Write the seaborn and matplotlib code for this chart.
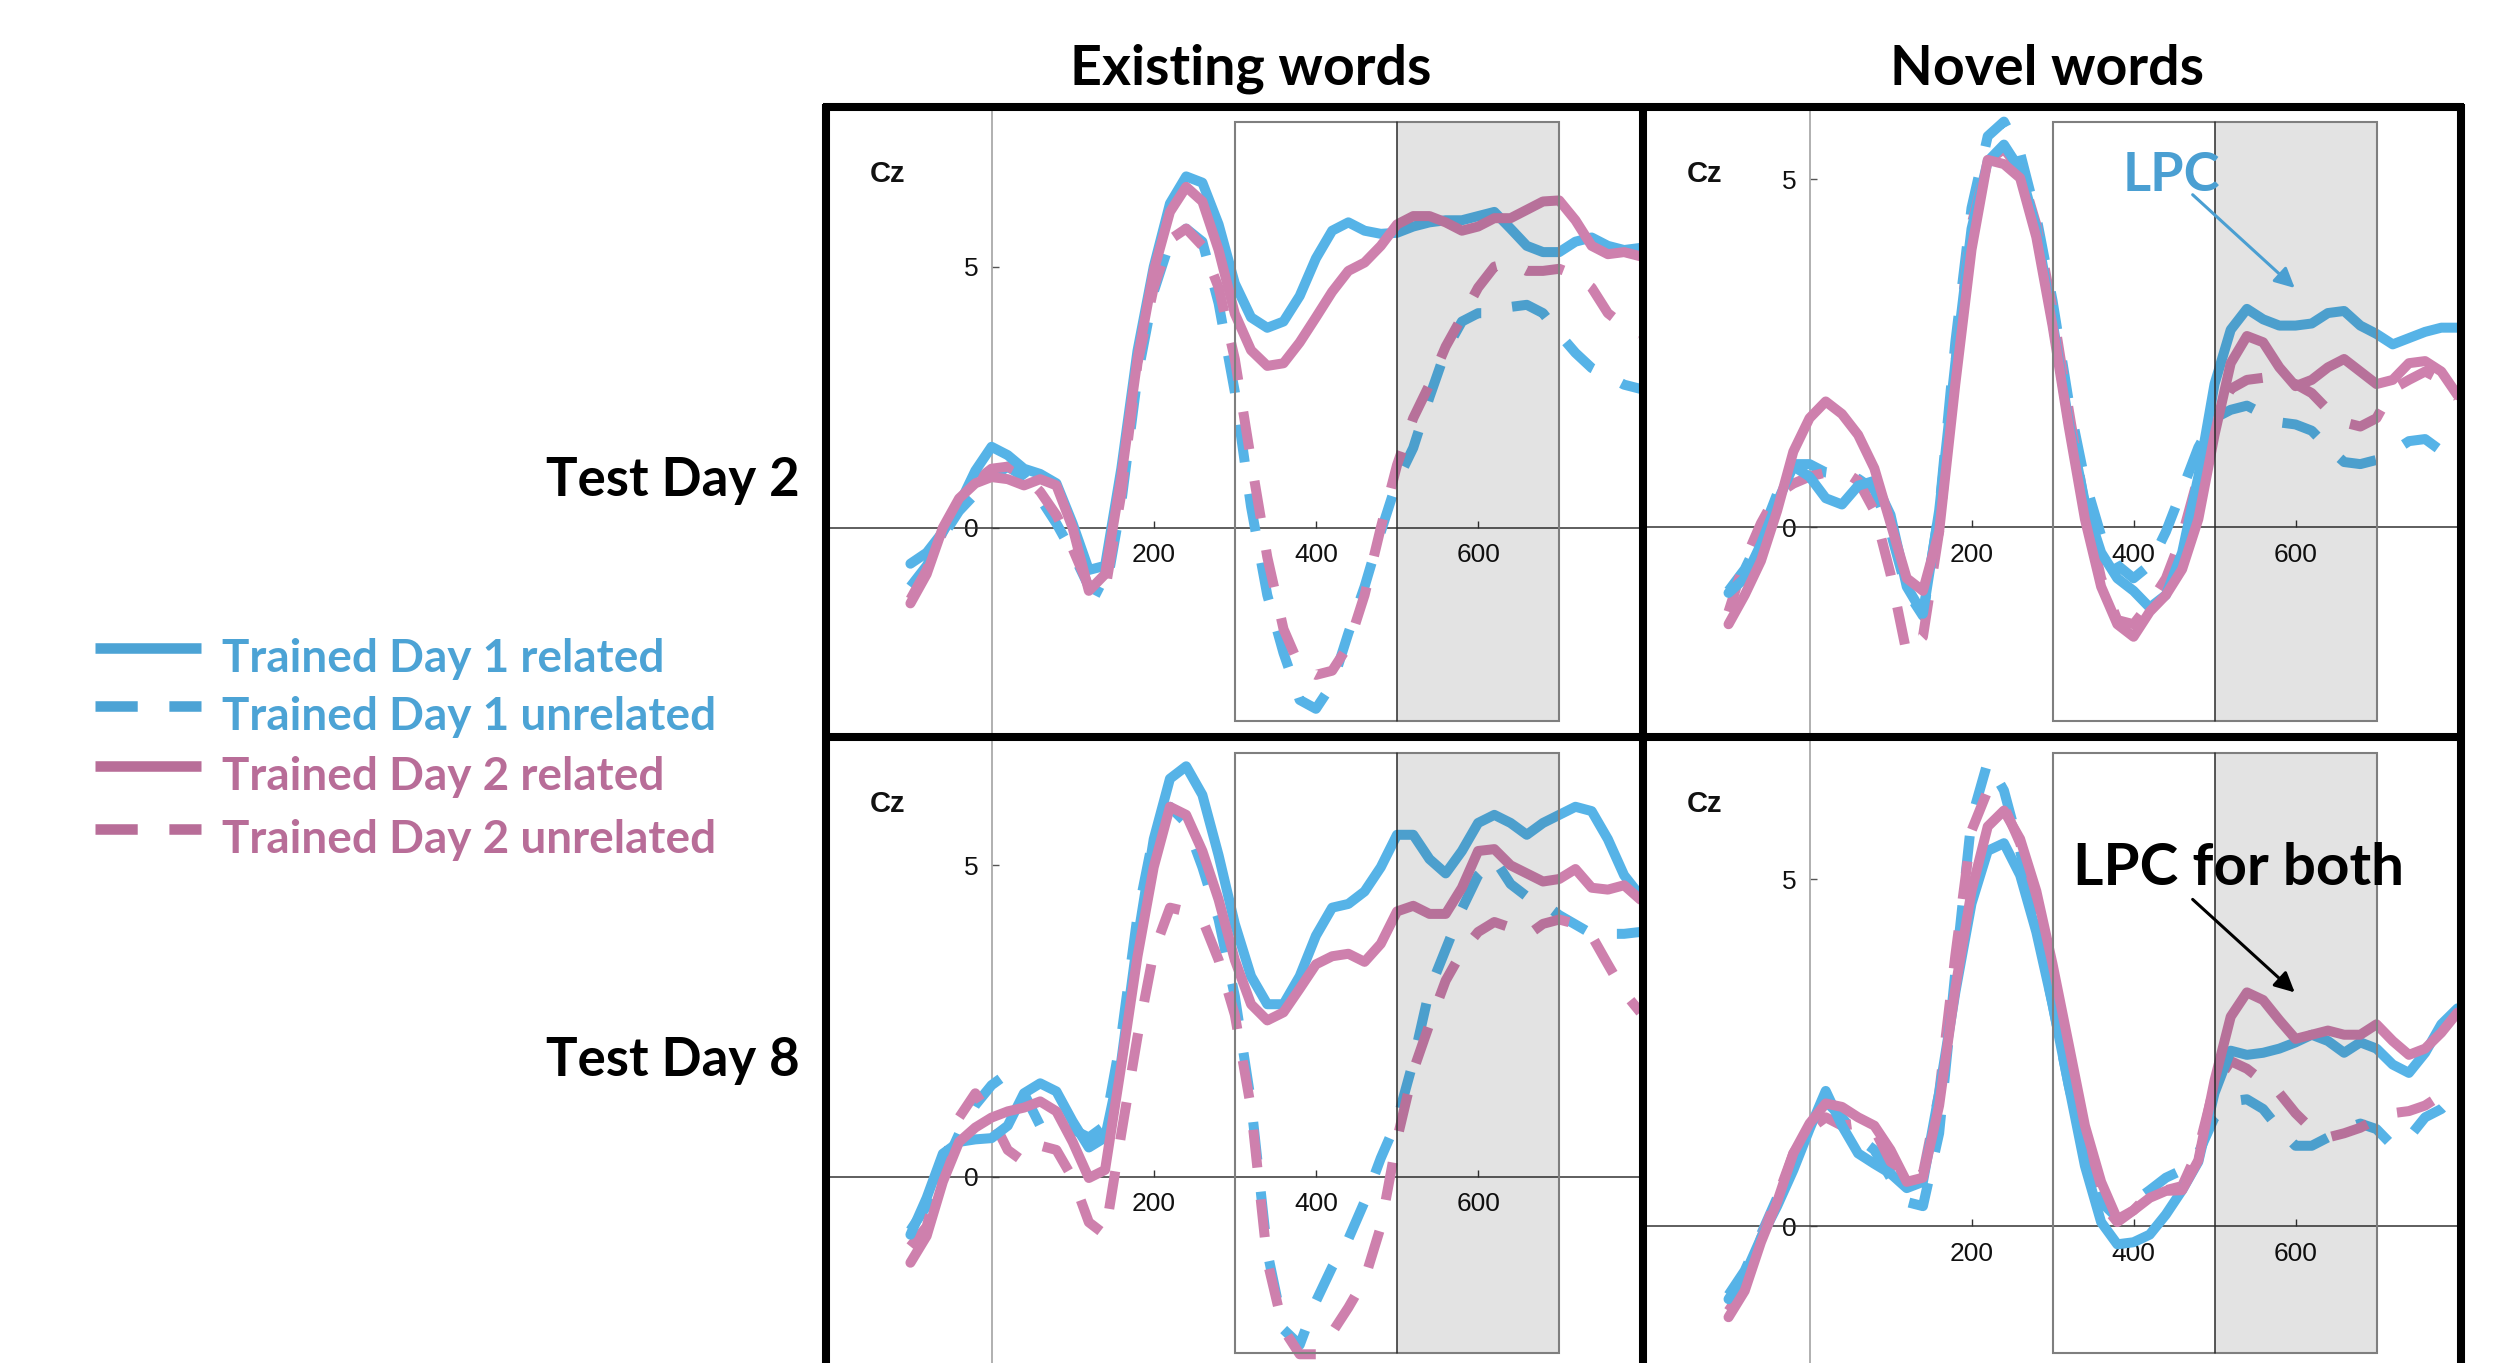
import matplotlib
matplotlib.use("Agg")
import matplotlib.pyplot as plt
import matplotlib.transforms as mtransforms
from matplotlib.patches import Rectangle
import numpy as np
import pandas as pd
import seaborn as sns

# ---------------------------------------------------------------------------
# ERP amplitudes at Cz (microvolts), sampled every 20 ms from -100 to 800 ms
# ---------------------------------------------------------------------------
times = list(range(-100, 801, 20))

conditions = [
    "Trained Day 1 related",
    "Trained Day 1 unrelated",
    "Trained Day 2 related",
    "Trained Day 2 unrelated",
]

# Existing words, test day 2
ew_d2_t1_rel = [-0.69, -0.48, -0.08, 0.44, 1.09, 1.55, 1.39, 1.13, 1.03, 0.85, 0.08, -0.81, -0.73, 1.13, 3.39, 5.00,
                6.21, 6.73, 6.61, 5.81, 4.68, 4.03, 3.83, 3.95, 4.44, 5.16, 5.69, 5.85, 5.69, 5.63, 5.65, 5.77, 5.85,
                5.89, 5.89, 5.97, 6.05, 5.73, 5.40, 5.28, 5.28, 5.48, 5.56, 5.40, 5.32, 5.36]
ew_d2_t1_unrel = [-1.13, -0.73, -0.16, 0.32, 0.65, 0.97, 1.17, 0.97, 0.56, 0.08, -0.48, -1.13, -1.29, 0.48, 2.90, 4.52,
                  5.48, 5.73, 5.48, 4.30, 2.60, 0.40, -1.29, -2.40, -3.30, -3.47, -3.00, -2.02, -1.13, -0.08, 0.89,
                  1.53, 2.50, 3.39, 3.95, 4.11, 4.11, 4.23, 4.27, 4.11, 3.71, 3.35, 3.06, 2.90, 2.74, 2.66]
ew_d2_t2_rel = [-1.45, -0.89, 0.00, 0.56, 0.85, 0.97, 0.93, 0.81, 0.93, 0.81, 0.00, -1.21, -0.89, 0.97, 3.23, 4.92,
                6.05, 6.53, 6.25, 5.32, 4.10, 3.40, 3.10, 3.15, 3.55, 4.03, 4.52, 4.92, 5.08, 5.40, 5.81, 5.97, 5.97,
                5.85, 5.69, 5.77, 5.93, 5.93, 6.09, 6.25, 6.27, 5.89, 5.40, 5.24, 5.28, 5.20]
ew_d2_t2_unrel = [-1.37, -0.81, -0.08, 0.48, 0.89, 1.13, 1.17, 1.01, 0.69, 0.24, -0.40, -1.13, -1.21, 0.65, 3.15, 4.60,
                  5.52, 5.73, 5.40, 4.60, 3.23, 1.29, -0.56, -1.94, -2.66, -2.82, -2.74, -2.26, -1.29, 0.00, 1.20,
                  2.10, 2.74, 3.47, 4.03, 4.60, 5.00, 5.08, 4.92, 4.92, 4.96, 4.84, 4.60, 4.11, 3.87, 3.71]

# Novel words, test day 2
nw_d2_t1_rel = [-0.94, -0.73, -0.24, 0.36, 0.88, 0.73, 0.42, 0.33, 0.60, 0.67, 0.18, -0.85, -1.24, 0.24, 2.36, 4.29,
                5.26, 5.50, 5.14, 4.29, 2.96, 1.51, 0.36, -0.36, -0.73, -0.91, -1.15, -0.97, -0.36, 0.73, 2.06, 2.84,
                3.14, 2.99, 2.90, 2.90, 2.93, 3.08, 3.11, 2.90, 2.78, 2.63, 2.72, 2.81, 2.87, 2.87]
nw_d2_t1_unrel = [-0.91, -0.60, -0.12, 0.48, 0.91, 0.91, 0.79, 0.76, 0.70, 0.54, -0.06, -0.91, -1.27, 0.24, 2.66, 4.59,
                  5.62, 5.83, 5.38, 4.47, 3.26, 1.81, 0.67, -0.12, -0.54, -0.73, -0.54, -0.06, 0.54, 1.15, 1.57,
                  1.69, 1.75, 1.63, 1.51, 1.48, 1.39, 1.15, 0.94, 0.91, 0.97, 1.09, 1.24, 1.27, 1.10, 0.90]
nw_d2_t2_rel = [-1.39, -0.97, -0.48, 0.24, 1.09, 1.57, 1.81, 1.63, 1.33, 0.85, 0.06, -0.73, -0.91, -0.06, 2.06, 3.99,
                5.28, 5.22, 5.02, 4.17, 2.90, 1.45, 0.12, -0.85, -1.39, -1.57, -1.21, -0.97, -0.60, 0.12, 1.33, 2.36,
                2.75, 2.66, 2.30, 2.03, 2.12, 2.30, 2.42, 2.24, 2.06, 2.12, 2.36, 2.39, 2.24, 1.90]
nw_d2_t2_unrel = [-1.21, -0.48, 0.06, 0.48, 0.63, 0.73, 0.79, 0.82, 0.67, 0.24, -0.67, -1.81, -1.57, -0.06, 2.36, 4.35,
                  5.26, 5.44, 5.14, 4.35, 3.14, 1.69, 0.30, -0.73, -1.33, -1.39, -1.09, -0.73, -0.12, 0.73, 1.57,
                  1.99, 2.12, 2.15, 2.12, 2.06, 1.93, 1.69, 1.51, 1.45, 1.57, 1.99, 2.12, 2.24, 2.12, 1.87]

# Existing words, test day 8
ew_d8_t1_rel = [-0.93, -0.34, 0.37, 0.56, 0.60, 0.62, 0.82, 1.34, 1.50, 1.37, 0.89, 0.47, 0.63, 1.86, 3.80, 5.42,
                6.39, 6.59, 6.13, 5.16, 4.06, 3.22, 2.77, 2.77, 3.22, 3.87, 4.32, 4.38, 4.58, 4.97, 5.49, 5.49, 5.10,
                4.87, 5.23, 5.68, 5.81, 5.68, 5.49, 5.68, 5.81, 5.94, 5.87, 5.42, 4.84, 4.51]
ew_d8_t1_unrel = [-0.86, -0.47, 0.11, 0.69, 1.15, 1.47, 1.66, 1.34, 0.82, 0.69, 0.76, 0.63, 0.82, 2.25, 4.19, 5.49,
                  5.94, 5.68, 4.97, 4.13, 2.90, 1.20, -1.20, -2.45, -2.70, -2.00, -1.45, -1.00, -0.40, 0.30, 0.90,
                  1.85, 3.00, 3.65, 4.30, 4.84, 5.10, 4.70, 4.50, 4.40, 4.20, 4.05, 3.90, 3.90, 3.90, 3.93]
ew_d8_t2_rel = [-1.38, -0.95, -0.08, 0.56, 0.79, 0.95, 1.05, 1.11, 1.21, 1.05, 0.56, -0.02, 0.11, 1.79, 3.54, 4.97,
                5.94, 5.81, 5.23, 4.45, 3.48, 2.77, 2.51, 2.64, 3.02, 3.41, 3.54, 3.58, 3.45, 3.74, 4.26, 4.35, 4.22,
                4.22, 4.64, 5.23, 5.26, 5.00, 4.87, 4.74, 4.78, 4.94, 4.64, 4.61, 4.68, 4.45]
ew_d8_t2_unrel = [-1.12, -0.80, 0.17, 0.95, 1.34, 0.95, 0.43, 0.24, 0.50, 0.43, -0.02, -0.73, -0.93, 0.69, 2.25, 3.61,
                  4.32, 4.26, 4.13, 3.48, 2.60, 1.10, -1.35, -2.45, -2.85, -2.85, -2.50, -2.10, -1.65, -0.80, 0.60,
                  1.70, 2.45, 3.15, 3.61, 3.93, 4.09, 4.00, 3.87, 4.06, 4.13, 4.06, 3.87, 3.41, 2.96, 2.64]

# Novel words, test day 8
nw_d8_t1_rel = [-1.05, -0.70, -0.17, 0.29, 0.81, 1.40, 1.95, 1.45, 1.05, 0.90, 0.76, 0.55, 0.64, 1.92, 3.37, 4.65,
                5.41, 5.52, 5.06, 4.24, 3.20, 2.03, 0.87, 0.06, -0.26, -0.23, -0.12, 0.17, 0.52, 0.93, 1.92, 2.53,
                2.47, 2.50, 2.56, 2.65, 2.76, 2.67, 2.50, 2.65, 2.56, 2.33, 2.21, 2.50, 2.91, 3.14]
nw_d8_t1_unrel = [-0.99, -0.64, -0.12, 0.41, 0.99, 1.45, 1.80, 1.57, 1.28, 1.10, 0.70, 0.35, 0.29, 1.34, 3.66, 5.87,
                  6.69, 6.28, 5.41, 4.36, 3.20, 2.03, 1.05, 0.35, 0.12, 0.35, 0.52, 0.70, 0.81, 1.05, 1.57, 1.80,
                  1.83, 1.69, 1.40, 1.16, 1.16, 1.28, 1.40, 1.48, 1.40, 1.16, 1.28, 1.57, 1.69, 1.92]
nw_d8_t2_rel = [-1.31, -0.93, -0.23, 0.35, 1.05, 1.48, 1.77, 1.72, 1.57, 1.45, 1.10, 0.64, 0.70, 1.74, 3.43, 4.83,
                5.76, 5.99, 5.58, 4.83, 3.78, 2.62, 1.45, 0.64, 0.10, 0.23, 0.41, 0.51, 0.52, 0.95, 2.10, 3.02, 3.37,
                3.26, 2.97, 2.70, 2.76, 2.82, 2.76, 2.76, 2.91, 2.67, 2.47, 2.56, 2.79, 3.08]
nw_d8_t2_unrel = [-1.22, -0.87, -0.17, 0.41, 1.05, 1.40, 1.57, 1.45, 1.48, 1.40, 0.93, 0.64, 0.76, 1.92, 3.90, 5.70,
                  6.28, 6.05, 5.52, 4.71, 3.55, 2.33, 1.16, 0.35, 0.06, 0.23, 0.47, 0.52, 0.58, 1.10, 2.03, 2.38,
                  2.27, 2.09, 1.92, 1.63, 1.40, 1.28, 1.34, 1.42, 1.54, 1.63, 1.66, 1.74, 1.89, 2.09]

column_titles = ["Existing words", "Novel words"]
row_titles = ["Test Day 2", "Test Day 8"]
x_ticks = [200, 400, 600]
y_ticks = [0, 5]
n400_window = (300, 500)
lpc_window = (500, 700)

# ---------------------------------------------------------------------------
# Style
# ---------------------------------------------------------------------------
sns.set_style("white")
plt.rcParams["font.family"] = ["Liberation Sans", "DejaVu Sans"]
LATO = ["Lato", "DejaVu Sans"]

BLUE = "#56b3e7"
PINK = "#ce80ad"
BLUE_KEY = "#4ca3d5"
PINK_KEY = "#b86d98"
LPC_BLUE = "#4a9fd2"
DASH = (3.8, 3.2)
LW = 7.2

palette = {conditions[0]: BLUE, conditions[1]: BLUE, conditions[2]: PINK, conditions[3]: PINK}
dash_map = {conditions[0]: "", conditions[1]: DASH, conditions[2]: "", conditions[3]: DASH}
draw_order = [conditions[1], conditions[3], conditions[0], conditions[2]]

W, H, DPI = 2506, 1363, 100
fig = plt.figure(figsize=(W / DPI, H / DPI), dpi=DPI)
fig.patch.set_facecolor("white")

# panel grid in figure pixels
COL_X = [826, 1643, 2461]
ROW_Y = [107, 737, 1363]


def add_panel(col, row, xlim, ylim, series, shade_frac):
    left, right = COL_X[col], COL_X[col + 1]
    top, bottom = ROW_Y[row], ROW_Y[row + 1]
    ax = fig.add_axes([left / W, 1 - bottom / H, (right - left) / W, (bottom - top) / H])
    ax.patch.set_alpha(0)

    df = pd.DataFrame({
        "time": times * len(conditions),
        "amplitude": [v for s in series for v in s],
        "condition": np.repeat(conditions, len(times)),
    })
    sns.lineplot(data=df, x="time", y="amplitude", hue="condition", style="condition",
                 hue_order=draw_order, style_order=draw_order, palette=palette, dashes=dash_map,
                 estimator=None, sort=False, legend=False, linewidth=LW, ax=ax,
                 solid_capstyle="round", solid_joinstyle="round", dash_capstyle="butt", zorder=3)

    ax.set_xlim(*xlim)
    ax.set_ylim(*ylim)
    ax.set_xlabel("")
    ax.set_ylabel("")

    # axes crossing at (0, 0)
    for side in ("top", "right"):
        ax.spines[side].set_visible(False)
    ax.spines["left"].set_position(("data", 0))
    ax.spines["bottom"].set_position(("data", 0))
    ax.spines["left"].set_color("#a3a3a3")
    ax.spines["left"].set_linewidth(1.2)
    ax.spines["bottom"].set_color("#333333")
    ax.spines["bottom"].set_linewidth(1.1)
    ax.set_xticks(x_ticks)
    ax.set_yticks(y_ticks)
    ax.tick_params(axis="x", bottom=True, direction="in", length=5, width=1.0, color="#333333",
                   labelsize=19, pad=11, labelcolor="#111111")
    ax.tick_params(axis="y", left=True, direction="in", length=5, width=1.0, color="#555555",
                   labelsize=19, pad=9, labelcolor="#111111")

    # analysis windows
    trans = mtransforms.blended_transform_factory(ax.transData, ax.transAxes)
    y0, y1 = shade_frac
    ax.add_patch(Rectangle((lpc_window[0], y0), lpc_window[1] - lpc_window[0], y1 - y0, transform=trans,
                           facecolor="black", alpha=0.11, edgecolor="none", zorder=4))
    ax.add_patch(Rectangle((n400_window[0], y0), lpc_window[1] - n400_window[0], y1 - y0, transform=trans,
                           facecolor="none", edgecolor="#7f7f7f", linewidth=1.5, zorder=4.5))
    ax.plot([lpc_window[0]] * 2, [y0, y1], transform=trans, color="#2a2a2a", linewidth=1.1, zorder=4.5)

    ax.annotate("Cz", xy=(0, 1), xycoords="axes fraction", xytext=(44, -67), textcoords="offset pixels",
                ha="left", va="center", fontsize=21, fontweight="bold", color="#111111")
    return ax


top_frac = ((737 - 721.3) / 630, (737 - 122.4) / 630)
bot_frac = ((1363 - 1353) / 626, (1363 - 753) / 626)

ax_tl = add_panel(0, 0, (-204.1, 803.3), (-4.01, 8.06),
                  [ew_d2_t1_rel, ew_d2_t1_unrel, ew_d2_t2_rel, ew_d2_t2_unrel], top_frac)
ax_tr = add_panel(1, 0, (-205.6, 804.3), (-3.01, 6.04),
                  [nw_d2_t1_rel, nw_d2_t1_unrel, nw_d2_t2_rel, nw_d2_t2_unrel], top_frac)
ax_bl = add_panel(0, 1, (-204.1, 803.3), (-2.99, 7.06),
                  [ew_d8_t1_rel, ew_d8_t1_unrel, ew_d8_t2_rel, ew_d8_t2_unrel], bot_frac)
ax_br = add_panel(1, 1, (-205.6, 804.3), (-1.97, 7.05),
                  [nw_d8_t1_rel, nw_d8_t1_unrel, nw_d8_t2_rel, nw_d8_t2_unrel], bot_frac)

# LPC call-outs
arrow_kw = dict(arrowstyle="-|>,head_length=0.6,head_width=0.3", lw=2.2, shrinkA=0, shrinkB=0,
                mutation_scale=20)
ax_tr.annotate("", xy=(599, 3.44), xytext=(473, 4.78),
               arrowprops=dict(color=LPC_BLUE, **arrow_kw), zorder=6)
ax_tr.text(447, 4.84, "LPC", color=LPC_BLUE, fontsize=39, fontweight="bold", family=LATO,
           ha="center", va="baseline", zorder=6)
ax_br.annotate("", xy=(599, 3.37), xytext=(473, 4.71),
               arrowprops=dict(color="black", **arrow_kw), zorder=6)
ax_br.text(529, 4.92, "LPC for both", color="black", fontsize=42, fontweight="bold", family=LATO,
           ha="center", va="baseline", zorder=6)

# ---------------------------------------------------------------------------
# Overlay in pixel coordinates: grid frame, titles and key
# ---------------------------------------------------------------------------
ov = fig.add_axes([0, 0, 1, 1], zorder=10)
ov.set_xlim(0, W)
ov.set_ylim(H, 0)
ov.set_axis_off()
ov.patch.set_visible(False)

FRAME_LW = 5.8
for x in COL_X:
    ov.plot([x, x], [ROW_Y[0] - 3, H + 20], color="black", lw=FRAME_LW, solid_capstyle="butt")
for y in ROW_Y[:2]:
    ov.plot([COL_X[0] - 3, COL_X[-1] + 3], [y, y], color="black", lw=FRAME_LW, solid_capstyle="butt")

for title, cx in zip(column_titles, [1251, 2047]):
    ov.text(cx, 85, title, ha="center", va="baseline", fontsize=40, fontweight="bold",
            family=LATO, color="black")
for title, base in zip(row_titles, [496, 1076]):
    ov.text(800, base, title, ha="right", va="baseline", fontsize=38, fontweight="bold",
            family=LATO, color="black")

key_rows = [648, 706, 766, 829]
key_colors = [BLUE_KEY, BLUE_KEY, PINK_KEY, PINK_KEY]
for cond, y, c in zip(conditions, key_rows, key_colors):
    style = dash_map[cond]
    line, = ov.plot([95, 201], [y, y], color=c, lw=7.6, solid_capstyle="butt", dash_capstyle="butt")
    if style:
        line.set_dashes((4.0, 3.0))
    ov.text(222, y + 24, cond, ha="left", va="baseline", fontsize=33, fontweight="bold",
            family=LATO, color=c)

fig.savefig("out.png", dpi=DPI, facecolor="white")
